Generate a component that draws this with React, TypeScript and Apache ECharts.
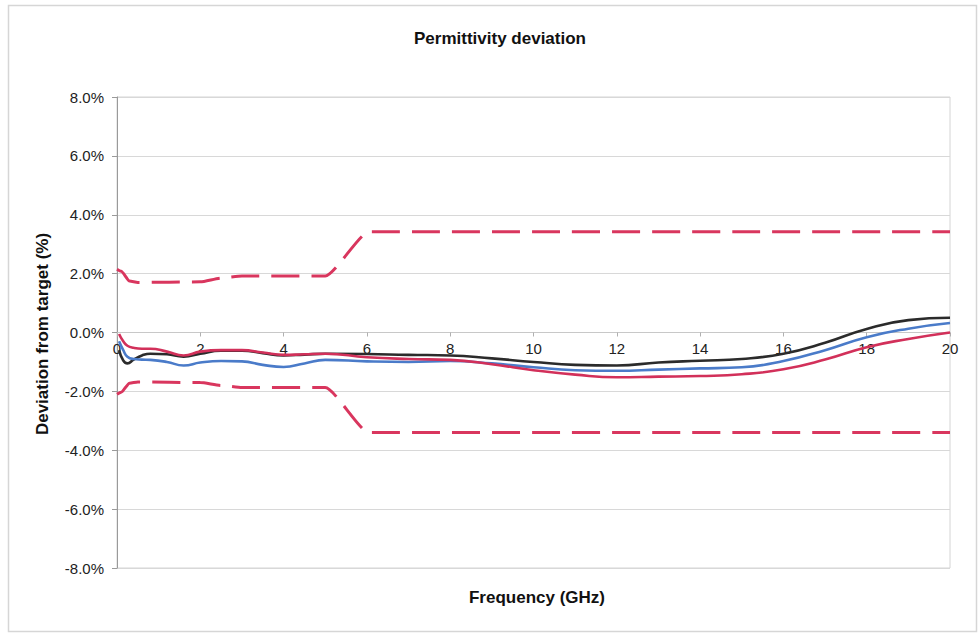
import React, { useEffect, useRef } from "react";
import * as echarts from "echarts";

const freqGHz = [0.05, 0.15, 0.25, 0.4, 0.6, 0.8, 1.2, 1.6, 2, 2.5, 3, 3.5, 4, 4.5, 5, 6, 7, 8, 9, 10, 11, 12, 13, 14, 15, 16, 17, 18, 19, 20];
const blackDev = [-0.6, -0.95, -1.05, -0.92, -0.78, -0.72, -0.74, -0.82, -0.72, -0.62, -0.62, -0.7, -0.78, -0.75, -0.72, -0.73, -0.76, -0.78, -0.88, -1.0, -1.1, -1.12, -1.02, -0.96, -0.9, -0.72, -0.35, 0.12, 0.42, 0.5];
const blueDev = [-0.3, -0.6, -0.82, -0.9, -0.92, -0.93, -1.0, -1.12, -1.02, -0.97, -0.98, -1.1, -1.17, -1.05, -0.93, -0.98, -1.0, -0.97, -1.05, -1.18, -1.28, -1.3, -1.26, -1.22, -1.18, -0.97, -0.6, -0.16, 0.13, 0.32];
const redDev = [-0.05, -0.3, -0.45, -0.52, -0.55, -0.55, -0.65, -0.78, -0.65, -0.6, -0.6, -0.68, -0.76, -0.74, -0.72, -0.84, -0.9, -0.93, -1.08, -1.28, -1.43, -1.52, -1.5, -1.48, -1.42, -1.25, -0.92, -0.5, -0.22, 0.0];

const limitFreq = [0, 0.1, 0.3, 0.5, 2, 2.5, 3, 5, 6.05, 20];
const upperLimit = [2.15, 2.08, 1.75, 1.7, 1.72, 1.85, 1.92, 1.92, 3.42, 3.42];
const lowerLimit = [-2.1, -2.03, -1.72, -1.68, -1.7, -1.8, -1.87, -1.87, -3.4, -3.4];

const yTicks = { min: -8, max: 8, step: 2 };
const xTicks = { min: 0, max: 20, step: 2 };

const FONT = "'Liberation Sans', Arial, sans-serif";

function pairs(xs: number[], ys: number[]) {
  return xs.map((x, i) => [x, ys[i]]);
}

export default function App() {
  const ref = useRef<HTMLDivElement>(null);
  useEffect(() => {
    if (!ref.current) return;
    const chart = echarts.init(ref.current, null, { renderer: "svg" });
    const limitStyle = { color: "#D9365E", width: 3, type: [28, 12] as any };
    const gridTop = 97;
    const gridBottom = 65;
    const plotH = 633 - gridTop - gridBottom;
    chart.setOption({
      animation: false,
      backgroundColor: "#ffffff",
      textStyle: { fontFamily: FONT },
      grid: {
        left: 117,
        right: 28,
        top: gridTop,
        bottom: gridBottom,
        show: true,
        borderColor: "#d4d4d4",
        borderWidth: 1,
      },
      xAxis: {
        type: "value",
        position: "bottom",
        offset: -plotH / 2,
        min: xTicks.min,
        max: xTicks.max,
        interval: xTicks.step,
        axisLine: { onZero: false, lineStyle: { color: "#c8c8c8", width: 1 } },
        axisTick: { show: true, length: 4, inside: false, lineStyle: { color: "#b0b0b0" } },
        axisLabel: { fontSize: 15, color: "#222", margin: 8, fontFamily: FONT, showMinLabel: true, showMaxLabel: true },
        splitLine: { show: false },
      },
      yAxis: {
        type: "value",
        min: yTicks.min,
        max: yTicks.max,
        interval: yTicks.step,
        axisLine: { show: true, onZero: false, lineStyle: { color: "#9a9a9a", width: 1 } },
        axisTick: { show: true, length: 5, lineStyle: { color: "#9a9a9a" } },
        axisLabel: {
          fontSize: 15,
          color: "#222",
          margin: 13,
          fontFamily: FONT,
          formatter: (v: number) => v.toFixed(1) + "%",
        },
        splitLine: { show: true, lineStyle: { color: "#d8d8d8", width: 1 } },
      },
      graphic: [
        {
          type: "rect",
          shape: { x: 8.5, y: 5.5, width: 968, height: 626 },
          style: { fill: "none", stroke: "#d6d6d6", lineWidth: 1.5 },
          silent: true,
          z: -10,
        },
        {
          type: "text",
          x: 500,
          y: 38,
          style: {
            text: "Permittivity deviation",
            fontSize: 17,
            fontWeight: "bold",
            fontFamily: FONT,
            fill: "#111",
            align: "center",
            verticalAlign: "middle",
          },
        },
        {
          type: "text",
          x: 537,
          y: 597,
          style: {
            text: "Frequency (GHz)",
            fontSize: 17,
            fontWeight: "bold",
            fontFamily: FONT,
            fill: "#111",
            align: "center",
            verticalAlign: "middle",
          },
        },
        {
          type: "text",
          x: 42,
          y: 334,
          rotation: Math.PI / 2,
          style: {
            text: "Deviation from target (%)",
            fontSize: 17,
            fontWeight: "bold",
            fontFamily: FONT,
            fill: "#111",
            align: "center",
            verticalAlign: "middle",
          },
        },
      ],
      series: [
        {
          name: "Upper limit",
          type: "line",
          data: pairs(limitFreq, upperLimit),
          showSymbol: false,
          smooth: 0.2,
          smoothMonotone: "x",
          lineStyle: limitStyle,
          z: 3,
        },
        {
          name: "Lower limit",
          type: "line",
          data: pairs(limitFreq, lowerLimit),
          showSymbol: false,
          smooth: 0.2,
          smoothMonotone: "x",
          lineStyle: limitStyle,
          z: 3,
        },
        {
          name: "Black",
          type: "line",
          data: pairs(freqGHz, blackDev),
          showSymbol: false,
          smooth: 0.5,
          lineStyle: { color: "#2b2b2b", width: 2.6 },
          z: 4,
        },
        {
          name: "Blue",
          type: "line",
          data: pairs(freqGHz, blueDev),
          showSymbol: false,
          smooth: 0.5,
          lineStyle: { color: "#4a7bc9", width: 2.6 },
          z: 5,
        },
        {
          name: "Red",
          type: "line",
          data: pairs(freqGHz, redDev),
          showSymbol: false,
          smooth: 0.5,
          lineStyle: { color: "#d2305a", width: 2.6 },
          z: 6,
        },
      ],
    });
    return () => chart.dispose();
  }, []);
  return (
    <div
      ref={ref}
      style={{ position: "fixed", left: 0, top: 0, width: 978, height: 633, background: "#fff" }}
    />
  );
}
